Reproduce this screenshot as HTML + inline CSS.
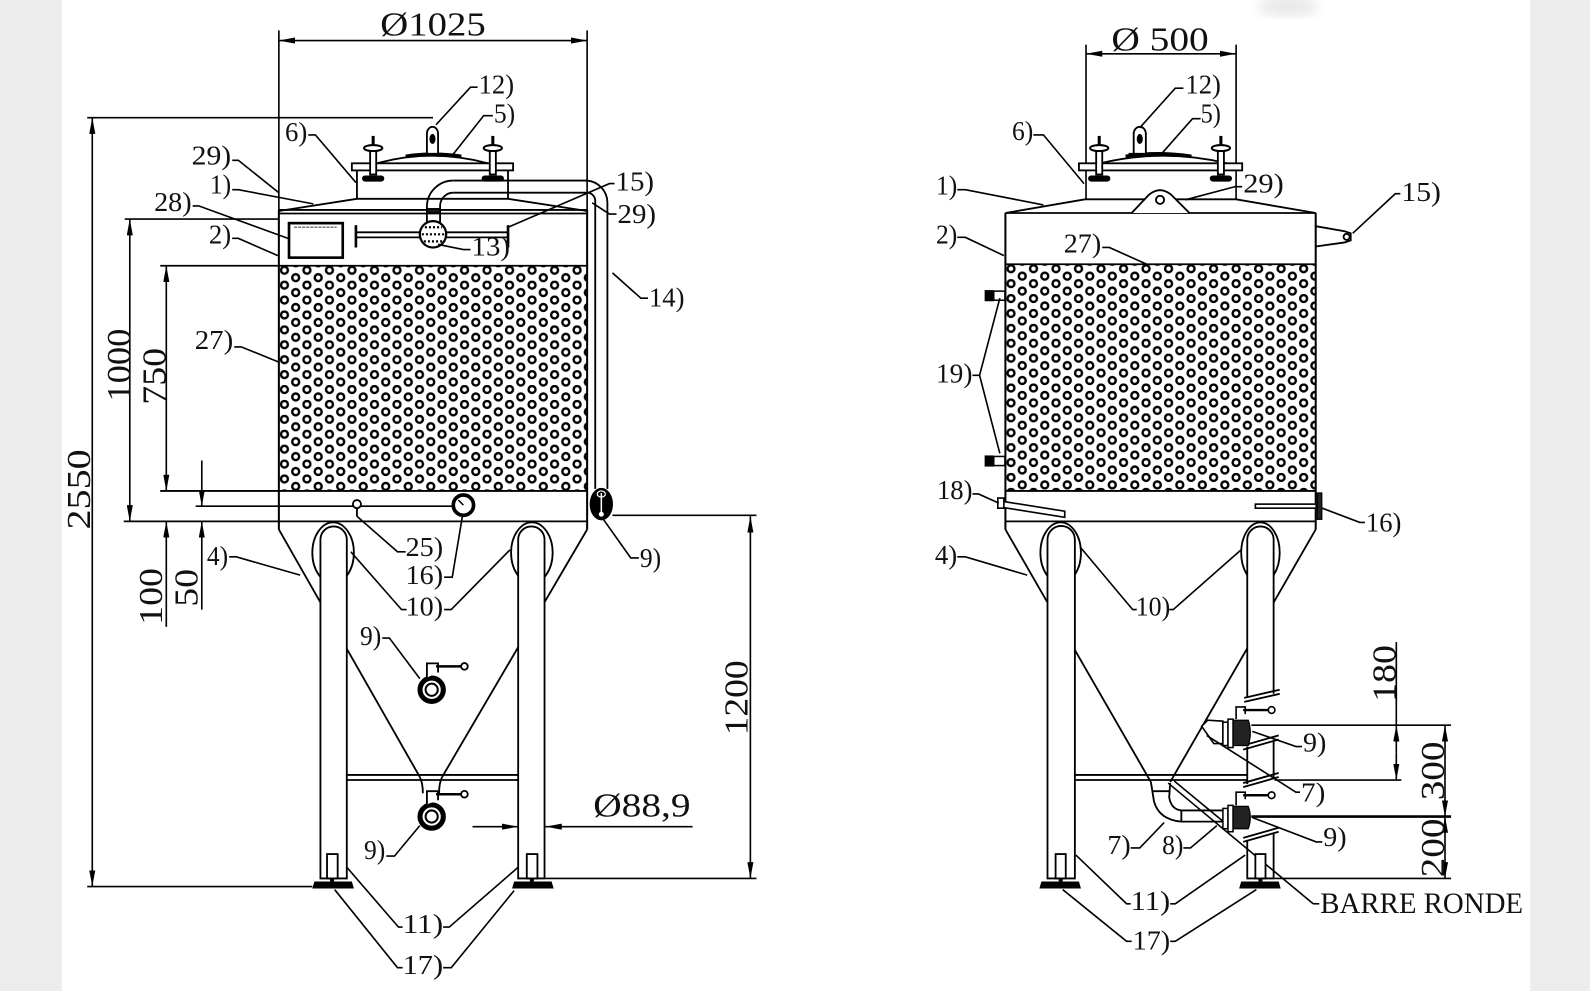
<!DOCTYPE html>
<html><head><meta charset="utf-8"><style>
html,body{margin:0;padding:0;background:#ececec;}
svg{display:block;}
text{font-family:"Liberation Serif",serif;fill:#111;}
</style></head><body>
<svg width="1590" height="991" viewBox="0 0 1568 977" preserveAspectRatio="none" xmlns="http://www.w3.org/2000/svg">
<defs>
<marker id="ar" viewBox="0 0 16 6" refX="16" refY="3" markerWidth="16" markerHeight="6" orient="auto-start-reverse" markerUnits="userSpaceOnUse"><path d="M0,0L16,3L0,6z" fill="#000"/></marker>
<pattern id="hexL" x="275" y="262" width="22.2" height="14.7" patternUnits="userSpaceOnUse">
<g fill="none" stroke="#000" stroke-width="2.4">
<circle cx="5.5" cy="4.4" r="3.4"/><circle cx="16.6" cy="11.75" r="3.4"/><circle cx="16.6" cy="-2.95" r="3.4"/>
</g></pattern>
<pattern id="hexR" x="991.5" y="260.5" width="22.2" height="14.7" patternUnits="userSpaceOnUse">
<g fill="none" stroke="#000" stroke-width="2.4">
<circle cx="5.5" cy="4.4" r="3.4"/><circle cx="16.6" cy="11.75" r="3.4"/><circle cx="16.6" cy="-2.95" r="3.4"/>
</g></pattern>
<filter id="bl"><feGaussianBlur stdDeviation="6"/></filter>
</defs>

<rect x="61" y="0" width="1448" height="977" fill="#fff"/>
<ellipse cx="1270" cy="6" rx="30" ry="10" fill="#d8d8d8" filter="url(#bl)" opacity="0.6"/>

<g fill="none" stroke="#000" stroke-width="1.8">

<!-- LEFT DRAWING -->
<rect x="275" y="262" width="304" height="222" fill="url(#hexL)" stroke="none"/>
<line x1="275" y1="40" x2="579" y2="40" marker-start="url(#ar)" marker-end="url(#ar)" stroke-width="1.6"/>
<line x1="275" y1="30" x2="275" y2="208" stroke-width="1.6"/>
<line x1="579" y1="30" x2="579" y2="208" stroke-width="1.6"/>
<line x1="91" y1="116" x2="91" y2="874" marker-start="url(#ar)" marker-end="url(#ar)" stroke-width="1.6"/>
<line x1="86" y1="116" x2="427" y2="116" stroke-width="1.6"/>
<line x1="86" y1="874" x2="308" y2="874" stroke-width="1.6"/>
<line x1="128" y1="216" x2="128" y2="514" marker-start="url(#ar)" marker-end="url(#ar)" stroke-width="1.6"/>
<line x1="123" y1="216" x2="275" y2="216" stroke-width="1.6"/>
<line x1="164" y1="262" x2="164" y2="484" marker-start="url(#ar)" marker-end="url(#ar)" stroke-width="1.6"/>
<line x1="158" y1="262" x2="579" y2="262"/>
<line x1="158" y1="484" x2="579" y2="484"/>
<line x1="193" y1="499" x2="447" y2="499" stroke-width="1.6"/>
<line x1="122" y1="514" x2="579" y2="514"/>
<line x1="199" y1="454" x2="199" y2="499" marker-end="url(#ar)" stroke-width="1.6"/>
<line x1="199" y1="601" x2="199" y2="514" marker-end="url(#ar)" stroke-width="1.6"/>
<line x1="164" y1="618" x2="164" y2="514" marker-end="url(#ar)" stroke-width="1.6"/>
<line x1="740" y1="509" x2="740" y2="866" marker-start="url(#ar)" marker-end="url(#ar)" stroke-width="1.6"/>
<line x1="604" y1="508" x2="746" y2="508" stroke-width="1.6"/>
<line x1="538" y1="866" x2="746" y2="866" stroke-width="1.6"/>
<line x1="466" y1="815" x2="511" y2="815" marker-end="url(#ar)" stroke-width="1.6"/>
<line x1="683" y1="815" x2="538" y2="815" marker-end="url(#ar)" stroke-width="1.6"/>

<line x1="275" y1="207" x2="275" y2="522" stroke-width="2"/>
<line x1="579" y1="207" x2="579" y2="522" stroke-width="2"/>
<line x1="275" y1="207" x2="579" y2="207"/>
<line x1="275" y1="210.5" x2="579" y2="210.5"/>
<polyline points="275,208 352,196 501,196 579,208"/>
<line x1="352" y1="168" x2="352" y2="196"/>
<line x1="501" y1="168" x2="501" y2="196"/>
<rect x="347" y="161" width="159" height="7" fill="#fff"/>
<path d="M372,161 Q426,146 481,161"/>
<path d="M400,154 Q426,150 455,154" stroke-width="3.2"/>
<path d="M421,152 L421,132 A5.5,7 0 0 1 432,132 L432,152" fill="#fff"/>
<ellipse cx="426.5" cy="137" rx="3" ry="5" fill="#000" stroke="none"/>
<line x1="416" y1="152" x2="437" y2="152" stroke-width="2.5"/>
<g id="clampL">
<line x1="368" y1="134" x2="368" y2="145" stroke-width="3"/>
<ellipse cx="368" cy="146" rx="9" ry="3" fill="#fff" stroke-width="2"/>
<rect x="365" y="149" width="6" height="23" fill="#fff"/>
<path d="M360,173 h16 a3,3 0 0 1 0,6 h-16 a3,3 0 0 1 0,-6z" fill="#000" stroke="none"/>
</g>
<use href="#clampL" transform="translate(118,0)"/>

<path d="M447,178 L579,178 A22,22 0 0 1 599,200 L599,482"/>
<path d="M447,190 L579,190 A8,8 0 0 1 587,198 L587,482"/>
<path d="M447,178 A26,26 0 0 0 421,204 L421,219"/>
<path d="M447,190 A13,13 0 0 0 434,203 L434,219"/>
<line x1="421" y1="206" x2="434" y2="206"/>
<line x1="421" y1="209" x2="434" y2="209"/>
<line x1="351" y1="229" x2="501" y2="229"/>
<line x1="351" y1="234" x2="501" y2="234"/>
<line x1="351" y1="222" x2="351" y2="244" stroke-width="2.6"/>
<line x1="501" y1="222" x2="501" y2="244" stroke-width="2.6"/>
<circle cx="427" cy="231" r="13" fill="#fff" stroke-width="2.2"/>
<g stroke-width="2.2" stroke-dasharray="2 2">
<line x1="419" y1="224" x2="436" y2="224"/>
<line x1="416" y1="231" x2="438" y2="231"/>
<line x1="418" y1="238" x2="436" y2="238"/>
</g>
<rect x="285" y="220" width="53" height="34" stroke-width="2.6" fill="#fff"/>
<line x1="290" y1="224" x2="332" y2="224" stroke="#777" stroke-width="1.5" stroke-dasharray="3 1"/>

<circle cx="352" cy="497" r="4" fill="#fff"/>
<line x1="352" y1="501" x2="352" y2="509"/>
<circle cx="457" cy="498" r="10" fill="#fff" stroke-width="3.6"/>
<line x1="457" y1="498" x2="452" y2="493" stroke-width="1.5"/>
<ellipse cx="593" cy="497" rx="11.5" ry="16" fill="#000" stroke="none"/>
<line x1="593" y1="486" x2="593" y2="505" stroke="#fff" stroke-width="1.5"/>
<circle cx="593" cy="507" r="2.5" fill="#fff" stroke="none"/>
<ellipse cx="593" cy="487" rx="4" ry="3" stroke="#fff" stroke-width="1.2"/>

<line x1="275" y1="522" x2="414" y2="766"/>
<line x1="579" y1="522" x2="436" y2="766"/>
<path d="M414,766 Q417,772 417,782"/>
<path d="M436,766 Q433,772 433,782"/>
<line x1="342" y1="764" x2="511" y2="764"/>
<line x1="342" y1="769" x2="511" y2="769"/>

<ellipse cx="328.5" cy="545" rx="20.5" ry="30" fill="#fff"/>
<path d="M316,866 L316,532 A13,13 0 0 1 342,532 L342,866 Z" fill="#fff"/>
<ellipse cx="524.5" cy="545" rx="20.5" ry="30" fill="#fff"/>
<path d="M511,866 L511,532 A13,13 0 0 1 537,532 L537,866 Z" fill="#fff"/>
<rect x="322.5" y="842" width="10.5" height="24" fill="#fff"/>
<rect x="325.5" y="866" width="4" height="3" fill="#000" stroke="none"/>
<path d="M310,869 L347,869 L349,876 L308,876 Z" fill="#000" stroke="none"/>
<rect x="519.5" y="842" width="10.5" height="24" fill="#fff"/>
<rect x="522.5" y="866" width="4" height="3" fill="#000" stroke="none"/>
<path d="M507,869 L544,869 L546,876 L505,876 Z" fill="#000" stroke="none"/>

<circle cx="425.7" cy="680" r="11.5" stroke-width="5" fill="#fff"/>
<circle cx="425.7" cy="680" r="6" stroke-width="2"/>
<path d="M421,668 L421,654 L432,654 L432,663" fill="#fff"/>
<line x1="430" y1="657" x2="455" y2="657" stroke-width="2.5"/>
<circle cx="458" cy="657" r="3.3" fill="#fff"/>
<circle cx="425.7" cy="805" r="11.5" stroke-width="5" fill="#fff"/>
<circle cx="425.7" cy="805" r="6" stroke-width="2"/>
<path d="M421,793 L421,780 L432,780 L432,789" fill="#fff"/>
<line x1="430" y1="783" x2="455" y2="783" stroke-width="2.5"/>
<circle cx="458" cy="783" r="3.3" fill="#fff"/>

<g stroke-width="1.6">
<polyline points="430,123 464,86 471,86"/>
<polyline points="447,152 477,114 486,114"/>
<polyline points="304,133 311,133 351,180"/>
<polyline points="229,158 235,158 275,190"/>
<polyline points="229,187 235,187 309,201"/>
<polyline points="190,203 196,203 284,235"/>
<polyline points="229,235 235,235 274,252"/>
<polyline points="231,342 238,342 275,357"/>
<polyline points="606,181 601,181 501,224"/>
<polyline points="608,211 601,211 584,200"/>
<polyline points="464,246 457,246 432,241"/>
<polyline points="639,294 632,294 604,269"/>
<polyline points="352,509 392,544 400,544"/>
<polyline points="438,569 446,569 456,509"/>
<polyline points="346,544 396,601 401,601"/>
<polyline points="438,601 445,601 503,542"/>
<polyline points="226,549 233,549 296,567"/>
<polyline points="595,512 622,550 630,550"/>
<polyline points="377,629 384,629 414,669"/>
<polyline points="381,844 389,844 414,814"/>
<polyline points="342,855 393,914 397,914"/>
<polyline points="437,914 443,914 511,855"/>
<polyline points="330,877 392,954 397,954"/>
<polyline points="437,954 445,954 507,878"/>
</g>

<!-- RIGHT DRAWING -->
<rect x="991.5" y="260.5" width="306" height="223.5" fill="url(#hexR)" stroke="none"/>
<line x1="1071" y1="53" x2="1219" y2="53" marker-start="url(#ar)" marker-end="url(#ar)" stroke-width="1.6"/>
<line x1="1071" y1="44" x2="1071" y2="196" stroke-width="1.6"/>
<line x1="1219" y1="44" x2="1219" y2="196" stroke-width="1.6"/>
<line x1="991.5" y1="210" x2="991.5" y2="522" stroke-width="2"/>
<line x1="1297.5" y1="210" x2="1297.5" y2="522" stroke-width="2"/>
<line x1="991.5" y1="210" x2="1297.5" y2="210"/>
<polyline points="991.5,210 1070,196.5 1219,196.5 1297.5,210"/>
<line x1="991.5" y1="260.5" x2="1297.5" y2="260.5"/>
<line x1="991.5" y1="484" x2="1297.5" y2="484"/>
<line x1="991.5" y1="514" x2="1297.5" y2="514"/>
<rect x="1064" y="161" width="161" height="7" fill="#fff"/>
<path d="M1085,161 Q1147,146 1210,161"/>
<path d="M1110,154 Q1140,149 1175,154" stroke-width="3.2"/>
<path d="M1118,152 L1118,132 A6,7 0 0 1 1130,132 L1130,152" fill="#fff"/>
<ellipse cx="1124" cy="137" rx="3" ry="5" fill="#000" stroke="none"/>
<line x1="1113" y1="152" x2="1135" y2="152" stroke-width="2.5"/>
<use href="#clampL" transform="translate(716,0)"/>
<use href="#clampL" transform="translate(836,0)"/>
<path d="M1116,210 L1133,192 Q1144,183 1155,192 L1173,210" fill="#fff"/>
<circle cx="1144" cy="197" r="4"/>
<path d="M1297.5,223 L1326,228 L1332,230 L1332,237 L1326,239 L1297.5,243"/>
<circle cx="1328" cy="233.5" r="3"/>
<rect x="971" y="286" width="9" height="11" fill="#000" stroke="none"/>
<rect x="980" y="287" width="11" height="9" fill="#fff" stroke-width="1.5"/>
<rect x="971" y="449" width="9" height="11" fill="#000" stroke="none"/>
<rect x="980" y="450" width="11" height="9" fill="#fff" stroke-width="1.5"/>
<polygon points="987,494 1050,504 1050,510 987,500" fill="#fff" stroke-width="1.6"/>
<rect x="984" y="491" width="6" height="10" fill="#fff" stroke-width="1.6"/>
<rect x="1238" y="497" width="60" height="4" fill="#fff" stroke-width="1.6"/>
<rect x="1299" y="486" width="4.5" height="26" fill="#222" stroke-width="1.2"/>

<line x1="991.5" y1="522" x2="1135" y2="771"/>
<line x1="1297.5" y1="522" x2="1154" y2="771"/>
<line x1="1060" y1="764" x2="1230" y2="764"/>
<line x1="1060" y1="769" x2="1230" y2="769"/>
<line x1="1257" y1="769" x2="1382" y2="769" stroke-width="1.6"/>
<path d="M1135,771 L1138,790 Q1143,808 1165,810 L1206,810"/>
<path d="M1154,772 L1153,786 Q1155,798 1165,799 L1206,799"/>
<line x1="1165" y1="799" x2="1165" y2="810"/>
<line x1="1137" y1="780" x2="1154" y2="780"/>
<polygon points="1185,716 1191,710 1206,711 1206,733 1197,733" fill="#fff" stroke-width="1.6"/>
<line x1="1152" y1="772" x2="1295" y2="891" stroke-width="1.6"/>
<line x1="1158" y1="770" x2="1215" y2="817" stroke-width="1.6"/>

<ellipse cx="1046" cy="545" rx="20" ry="30" fill="#fff"/>
<path d="M1033,866 L1033,532 A13.5,13.5 0 0 1 1060,532 L1060,866 Z" fill="#fff"/>
<ellipse cx="1243" cy="545" rx="19" ry="30" fill="#fff"/>
<path d="M1230,688 L1230,532 A13,13 0 0 1 1256,532 L1256,684" fill="#fff"/>
<line x1="1227" y1="692" x2="1262" y2="684" stroke-width="1.8"/>
<line x1="1227" y1="688" x2="1262" y2="680" stroke-width="1.8"/>
<line x1="1230" y1="736" x2="1230" y2="773"/>
<line x1="1256" y1="731" x2="1256" y2="767"/>
<line x1="1226" y1="739" x2="1261" y2="729" stroke-width="1.8"/>
<line x1="1226" y1="735" x2="1261" y2="725" stroke-width="1.8"/>
<line x1="1226" y1="776" x2="1261" y2="766" stroke-width="1.8"/>
<line x1="1226" y1="772" x2="1261" y2="762" stroke-width="1.8"/>
<path d="M1230,828 L1230,866 L1256,866 L1256,821"/>
<line x1="1226" y1="830" x2="1261" y2="820" stroke-width="1.8"/>
<line x1="1226" y1="826" x2="1261" y2="816" stroke-width="1.8"/>
<rect x="1041" y="842" width="10" height="24" fill="#fff"/>
<rect x="1044" y="866" width="4" height="3" fill="#000" stroke="none"/>
<path d="M1027,869 L1064,869 L1066,876 L1025,876 Z" fill="#000" stroke="none"/>
<rect x="1238" y="842" width="10" height="24" fill="#fff"/>
<rect x="1241" y="866" width="4" height="3" fill="#000" stroke="none"/>
<path d="M1224,869 L1261,869 L1263,876 L1222,876 Z" fill="#000" stroke="none"/>

<rect x="1206" y="712" width="5" height="23" fill="#fff" stroke-width="1.5"/>
<rect x="1211" y="709" width="5" height="28" fill="#fff" stroke-width="1.5"/>
<path d="M1216,710 L1231,710 Q1235,722 1231,735 L1216,735 Z" fill="#222" stroke-width="1.2"/>
<path d="M1219,709 L1219,697 L1228,697 L1228,704" fill="#fff" stroke-width="1.6"/>
<line x1="1226" y1="700" x2="1251" y2="700" stroke-width="2.4"/>
<circle cx="1254" cy="700" r="3.3" fill="#fff" stroke-width="1.6"/>
<rect x="1206" y="797" width="5" height="20" fill="#fff" stroke-width="1.5"/>
<rect x="1211" y="794" width="5" height="26" fill="#fff" stroke-width="1.5"/>
<path d="M1216,795 L1231,795 Q1235,806 1231,817 L1216,817 Z" fill="#222" stroke-width="1.2"/>
<path d="M1219,794 L1219,781 L1228,781 L1228,788" fill="#fff" stroke-width="1.6"/>
<line x1="1226" y1="784" x2="1251" y2="784" stroke-width="2.4"/>
<circle cx="1254" cy="784" r="3.3" fill="#fff" stroke-width="1.6"/>

<line x1="1234" y1="715" x2="1431" y2="715" stroke-width="1.6"/>
<line x1="1234" y1="805" x2="1431" y2="805" stroke-width="2.6"/>
<line x1="1257" y1="866" x2="1431" y2="866" stroke-width="1.6"/>
<line x1="1377" y1="633" x2="1377" y2="715" stroke-width="1.6"/>
<line x1="1377" y1="742" x2="1377" y2="715" marker-end="url(#ar)" stroke-width="1.6"/>
<line x1="1377" y1="742" x2="1377" y2="769" marker-end="url(#ar)" stroke-width="1.6"/>
<line x1="1425" y1="715" x2="1425" y2="805" marker-start="url(#ar)" marker-end="url(#ar)" stroke-width="1.6"/>
<line x1="1425" y1="805" x2="1425" y2="866" marker-start="url(#ar)" marker-end="url(#ar)" stroke-width="1.6"/>

<g stroke-width="1.6">
<polyline points="1124,126 1159,87 1167,87"/>
<polyline points="1146,151 1176,117 1184,117"/>
<polyline points="1019,133 1029,133 1069,181"/>
<polyline points="944,187 952,187 1029,202"/>
<polyline points="1225,184 1218,184 1169,197"/>
<polyline points="1381,191 1376,191 1334,230"/>
<polyline points="944,234 952,234 990,252"/>
<polyline points="1087,244 1094,244 1132,261"/>
<polyline points="959,370 966,370 986,294"/>
<polyline points="966,370 986,447"/>
<polyline points="959,487 965,487 985,496"/>
<polyline points="1346,515 1341,515 1304,501"/>
<polyline points="944,549 952,549 1013,567"/>
<polyline points="1065,539 1117,601 1121,601"/>
<polyline points="1153,601 1157,601 1224,542"/>
<polyline points="1235,721 1278,736 1284,736"/>
<polyline points="1190,725 1278,781 1282,781"/>
<polyline points="1235,806 1298,830 1304,830"/>
<polyline points="1115,836 1124,836 1148,811"/>
<polyline points="1167,836 1174,836 1200,814"/>
<polyline points="1061,843 1111,891 1115,891"/>
<polyline points="1154,891 1159,891 1228,843"/>
<polyline points="1048,877 1111,928 1116,928"/>
<polyline points="1154,928 1159,928 1239,877"/>
<polyline points="1295,891 1301,891"/>
</g>
</g>

<g font-size="33">
<text x="375" y="35" textLength="104" lengthAdjust="spacingAndGlyphs">Ø1025</text>
<text x="1096" y="50" textLength="96" lengthAdjust="spacingAndGlyphs">Ø 500</text>
<text x="585" y="805" textLength="96" lengthAdjust="spacingAndGlyphs">Ø88,9</text>
<text transform="translate(89,522) rotate(-90)" textLength="79" lengthAdjust="spacingAndGlyphs">2550</text>
<text transform="translate(128,396) rotate(-90)" textLength="72" lengthAdjust="spacingAndGlyphs">1000</text>
<text transform="translate(163,399) rotate(-90)" textLength="56" lengthAdjust="spacingAndGlyphs">750</text>
<text transform="translate(160,616) rotate(-90)" textLength="56" lengthAdjust="spacingAndGlyphs">100</text>
<text transform="translate(195,598) rotate(-90)" textLength="37" lengthAdjust="spacingAndGlyphs">50</text>
<text transform="translate(737,725) rotate(-90)" textLength="74" lengthAdjust="spacingAndGlyphs">1200</text>
<text transform="translate(1376,692) rotate(-90)" textLength="56" lengthAdjust="spacingAndGlyphs">180</text>
<text transform="translate(1424,789) rotate(-90)" textLength="58" lengthAdjust="spacingAndGlyphs">300</text>
<text transform="translate(1424,865) rotate(-90)" textLength="58" lengthAdjust="spacingAndGlyphs">200</text>
</g>
<g font-size="27">
<text x="472" y="92" textLength="35" lengthAdjust="spacingAndGlyphs">12)</text>
<text x="487" y="121" textLength="21" lengthAdjust="spacingAndGlyphs">5)</text>
<text x="281" y="139" textLength="22" lengthAdjust="spacingAndGlyphs">6)</text>
<text x="189" y="162" textLength="39" lengthAdjust="spacingAndGlyphs">29)</text>
<text x="207" y="191" textLength="21" lengthAdjust="spacingAndGlyphs">1)</text>
<text x="152" y="208" textLength="37" lengthAdjust="spacingAndGlyphs">28)</text>
<text x="206" y="240" textLength="22" lengthAdjust="spacingAndGlyphs">2)</text>
<text x="192" y="344" textLength="38" lengthAdjust="spacingAndGlyphs">27)</text>
<text x="607" y="188" textLength="38" lengthAdjust="spacingAndGlyphs">15)</text>
<text x="609" y="220" textLength="38" lengthAdjust="spacingAndGlyphs">29)</text>
<text x="465" y="252" textLength="38" lengthAdjust="spacingAndGlyphs">13)</text>
<text x="640" y="302" textLength="35" lengthAdjust="spacingAndGlyphs">14)</text>
<text x="400" y="548" textLength="37" lengthAdjust="spacingAndGlyphs">25)</text>
<text x="400" y="576" textLength="37" lengthAdjust="spacingAndGlyphs">16)</text>
<text x="400" y="607" textLength="37" lengthAdjust="spacingAndGlyphs">10)</text>
<text x="204" y="557" textLength="21" lengthAdjust="spacingAndGlyphs">4)</text>
<text x="631" y="559" textLength="21" lengthAdjust="spacingAndGlyphs">9)</text>
<text x="355" y="636" textLength="21" lengthAdjust="spacingAndGlyphs">9)</text>
<text x="359" y="847" textLength="21" lengthAdjust="spacingAndGlyphs">9)</text>
<text x="397" y="920" textLength="40" lengthAdjust="spacingAndGlyphs">11)</text>
<text x="397" y="960" textLength="40" lengthAdjust="spacingAndGlyphs">17)</text>
<text x="1169" y="92" textLength="35" lengthAdjust="spacingAndGlyphs">12)</text>
<text x="1184" y="121" textLength="20" lengthAdjust="spacingAndGlyphs">5)</text>
<text x="998" y="138" textLength="21" lengthAdjust="spacingAndGlyphs">6)</text>
<text x="923" y="192" textLength="21" lengthAdjust="spacingAndGlyphs">1)</text>
<text x="1226" y="190" textLength="40" lengthAdjust="spacingAndGlyphs">29)</text>
<text x="1382" y="198" textLength="39" lengthAdjust="spacingAndGlyphs">15)</text>
<text x="923" y="240" textLength="21" lengthAdjust="spacingAndGlyphs">2)</text>
<text x="1049" y="249" textLength="37" lengthAdjust="spacingAndGlyphs">27)</text>
<text x="923" y="377" textLength="36" lengthAdjust="spacingAndGlyphs">19)</text>
<text x="924" y="492" textLength="35" lengthAdjust="spacingAndGlyphs">18)</text>
<text x="1347" y="524" textLength="35" lengthAdjust="spacingAndGlyphs">16)</text>
<text x="922" y="556" textLength="22" lengthAdjust="spacingAndGlyphs">4)</text>
<text x="1120" y="607" textLength="34" lengthAdjust="spacingAndGlyphs">10)</text>
<text x="1285" y="741" textLength="23" lengthAdjust="spacingAndGlyphs">9)</text>
<text x="1283" y="790" textLength="24" lengthAdjust="spacingAndGlyphs">7)</text>
<text x="1305" y="834" textLength="23" lengthAdjust="spacingAndGlyphs">9)</text>
<text x="1092" y="842" textLength="23" lengthAdjust="spacingAndGlyphs">7)</text>
<text x="1146" y="842" textLength="21" lengthAdjust="spacingAndGlyphs">8)</text>
<text x="1115" y="897" textLength="39" lengthAdjust="spacingAndGlyphs">11)</text>
<text x="1117" y="936" textLength="37" lengthAdjust="spacingAndGlyphs">17)</text>
<text x="1302" y="900" font-size="29" textLength="200" lengthAdjust="spacingAndGlyphs">BARRE RONDE</text>
</g>
</svg>
</body></html>
